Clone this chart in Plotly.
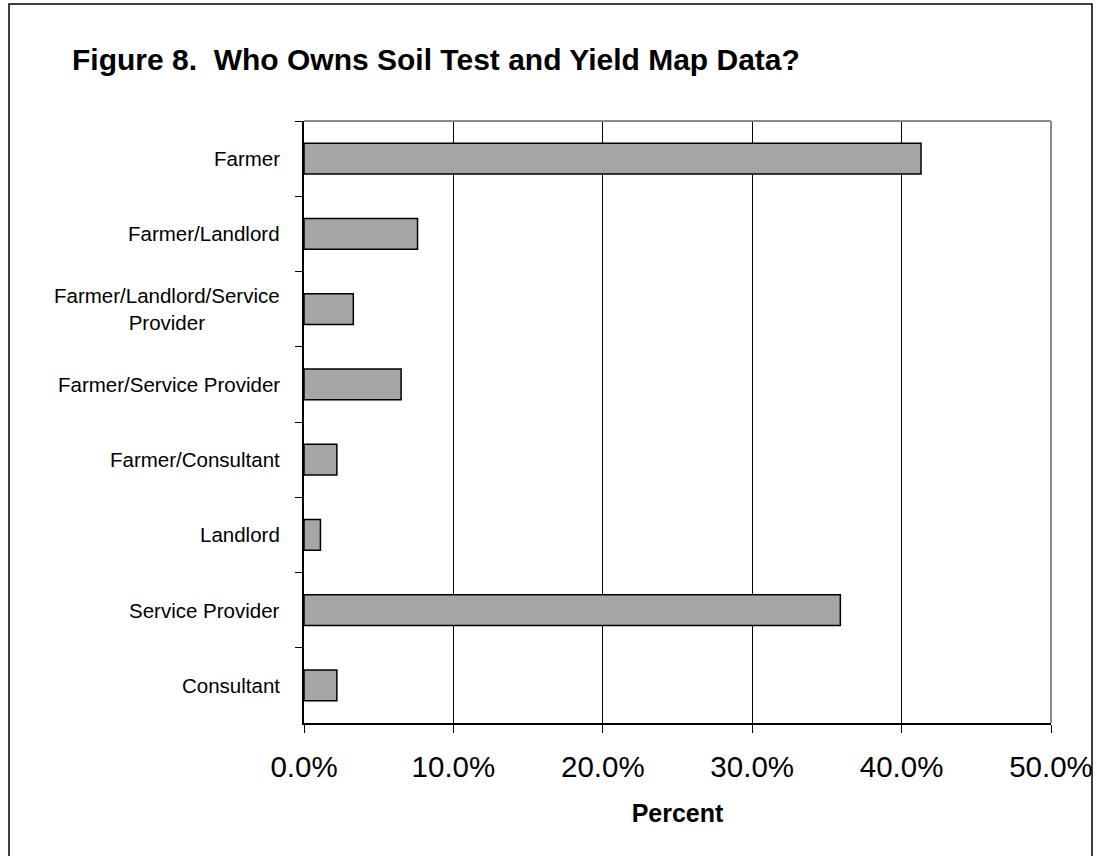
import plotly.graph_objects as go

categories = ["Farmer", "Farmer/Landlord", "Farmer/Landlord/Service<br>Provider",
              "Farmer/Service Provider", "Farmer/Consultant", "Landlord",
              "Service Provider", "Consultant"]
percent = [0.413, 0.076, 0.033, 0.065, 0.022, 0.011, 0.359, 0.022]
x_ticks = [0.0, 0.1, 0.2, 0.3, 0.4, 0.5]
x_tick_labels = ["0.0%", "10.0%", "20.0%", "30.0%", "40.0%", "50.0%"]

W, H = 1097, 856
L, R, T, B = 304, 46, 121, 133
pw, ph = W - L - R, H - T - B

def px_x(x):
    return (x - L) / pw

def px_y(y):
    return (H - B - y) / ph

FONT = "Liberation Sans, Arial, sans-serif"

fig = go.Figure()
fig.add_trace(go.Bar(
    x=percent, y=categories, orientation="h",
    width=0.41,
    marker=dict(color="#a5a5a5", line=dict(color="black", width=1.5)),
))

annotations = []
for c in categories:
    annotations.append(dict(
        x=0, xref="paper", y=c, yref="y", text=c, showarrow=False,
        xanchor="right", yanchor="middle", align="center", xshift=-22,
        font=dict(family=FONT, size=20.5, color="black"),
    ))

fig.update_layout(
    width=W, height=H,
    margin=dict(l=L, r=R, t=T, b=B),
    paper_bgcolor="white", plot_bgcolor="white",
    showlegend=False,
    title=dict(text="<b>Figure 8.&nbsp; Who Owns Soil Test and Yield Map Data?</b>",
               x=72 / W, xanchor="left", xref="container",
               y=1 - 59 / H, yanchor="middle", yref="container",
               font=dict(family=FONT, size=30, color="black")),
    xaxis=dict(range=[0, 0.5], tickvals=x_ticks, ticktext=x_tick_labels,
               automargin=False,
               showgrid=True, gridcolor="black", gridwidth=1,
               showline=True, linecolor="black", linewidth=1.5,
               ticks="outside", ticklen=8, tickcolor="black", tickwidth=1,
               ticklabelstandoff=9,
               tickfont=dict(family=FONT, size=29.5, color="black"),
               zeroline=False,
               title=dict(text="<b>Percent</b>", standoff=22,
                          font=dict(family=FONT, size=25, color="black"))),
    yaxis=dict(categoryorder="array", categoryarray=categories,
               autorange="reversed", automargin=False,
               showticklabels=False, showgrid=False,
               showline=True, linecolor="black", linewidth=1.5,
               ticks="outside", tickson="boundaries", ticklen=7,
               tickcolor="black", tickwidth=1, zeroline=False),
    annotations=annotations,
    shapes=[
        dict(type="line", xref="paper", yref="paper", x0=0, x1=1, y0=1, y1=1,
             line=dict(color="#8a8a8a", width=2), layer="above"),
        dict(type="line", xref="paper", yref="paper", x0=1, x1=1, y0=0, y1=1,
             line=dict(color="#8a8a8a", width=2), layer="above"),
        dict(type="rect", xref="paper", yref="paper",
             x0=px_x(9), x1=px_x(1092), y0=px_y(H + 20), y1=px_y(4),
             line=dict(color="black", width=1.5), fillcolor="rgba(0,0,0,0)"),
    ],
)

fig.write_html("out.html")
